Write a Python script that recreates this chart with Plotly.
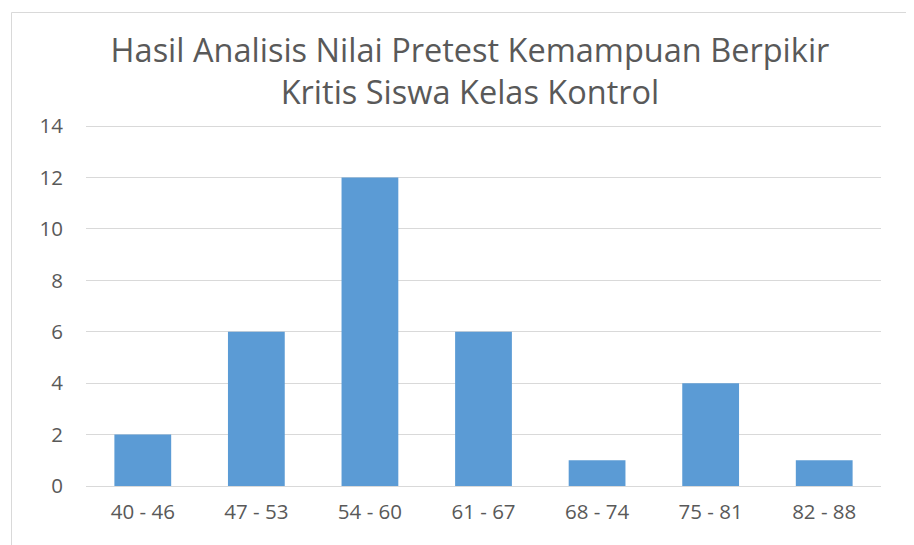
import plotly.graph_objects as go

categories = ["40 - 46", "47 - 53", "54 - 60", "61 - 67", "68 - 74", "75 - 81", "82 - 88"]
values = [2, 6, 12, 6, 1, 4, 1]
y_ticks = [0, 2, 4, 6, 8, 10, 12, 14]
title_text = "Hasil Analisis Nilai Pretest Kemampuan Berpikir<br>Kritis Siswa Kelas Kontrol"

# page body has an 8px margin, so the figure is sized/offset to compensate
W, H = 906, 537
ml, mr, mt, mb = 78, 33, 116, 59
pw, ph = W - ml - mr, H - mt - mb

fig = go.Figure(go.Bar(
    x=categories, y=values,
    marker=dict(color="#5B9BD5", line=dict(width=0)),
    hoverinfo="x+y",
))

fig.update_layout(
    width=W, height=H,
    margin=dict(l=ml, r=mr, t=mt, b=mb),
    paper_bgcolor="white", plot_bgcolor="white",
    bargap=0.5,
    showlegend=False,
    font=dict(family="Open Sans", color="#595959"),
    title=dict(
        text=title_text,
        x=462 / W, xanchor="center",
        y=1 - 54 / H, yanchor="middle",
        font=dict(size=32.5, color="#595959", family="Open Sans"),
    ),
    xaxis=dict(
        type="category",
        showgrid=False, showline=False, zeroline=False,
        tickfont=dict(size=20.5, color="#595959"),
        ticks="", ticklabelstandoff=11,
    ),
    yaxis=dict(
        range=[0, 14.08], tickvals=y_ticks,
        showgrid=True, gridcolor="#d9d9d9", gridwidth=1,
        zeroline=True, zerolinecolor="#d9d9d9", zerolinewidth=1,
        showline=False,
        tickfont=dict(size=20.5, color="#595959"),
        ticks="", ticklabelstandoff=22,
    ),
    shapes=[dict(
        type="rect", xref="paper", yref="paper",
        x0=(3.5 - ml) / pw, x1=(W + 10 - ml) / pw,
        y0=(H - mb - (H + 10)) / ph, y1=(H - mb - 4.5) / ph,
        line=dict(color="#d9d9d9", width=1), fillcolor="rgba(0,0,0,0)",
        layer="below",
    )],
)

fig.write_html("out.html")
